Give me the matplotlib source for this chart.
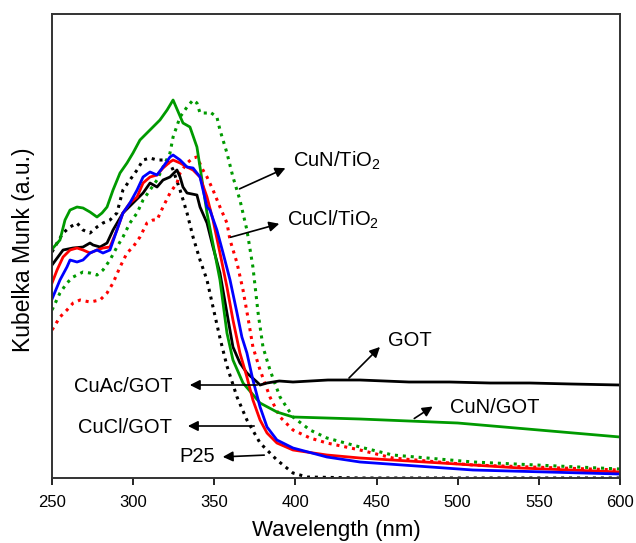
import matplotlib.pyplot as plt
from matplotlib import use

use('Agg')
plt.rcParams['font.family'] = ['Liberation Sans', 'DejaVu Sans']
plt.rcParams['mathtext.fontset'] = 'custom'
plt.rcParams['mathtext.rm'] = 'Liberation Sans'
plt.rcParams['mathtext.it'] = 'Liberation Sans:italic'

# ---- data (arbitrary Kubelka-Munk units) ----
wl_got = [250, 256.8, 262.9, 269.1, 273.4, 275.3, 279.6, 283.9, 287.6, 293.7, 299.9,
          306.1, 310.4, 314.7, 318.4, 322.7, 327, 328.9, 330.7, 333.2, 339.3, 341.2,
          345.5, 349.2, 353.5, 357.8, 361.5, 365.8, 370.1, 376.3, 378.2, 382.5, 390,
          398.5, 420, 439.8, 470, 495, 520, 544.5, 570, 600]
km_got = [213, 228, 230, 231, 235, 233, 231, 235, 248, 265, 275,
          285, 295, 291, 298, 301, 308, 301, 291, 285, 283, 271,
          255, 231, 205, 165, 131, 115, 105, 96, 93, 95, 97,
          96, 98, 98, 96, 96, 95, 95, 94, 93]

wl_cun_got = [250, 250.6, 254.9, 258, 261.1, 265.4, 269.1, 273.4, 277.7, 280.8, 283.9,
              287.6, 291.9, 296.2, 299.9, 304.2, 308.5, 312.2, 316.5, 320.9, 324.6,
              330.7, 335, 339.3, 341.2, 345.5, 353.5, 357.8, 361.5, 367.7, 378.2,
              388.6, 398.5, 439.8, 500, 550, 600]
km_cun_got = [228, 230, 238, 258, 268, 271, 270, 266, 261, 265, 271,
              288, 305, 315, 325, 338, 345, 351, 358, 368, 378,
              355, 351, 331, 311, 265, 198, 145, 118, 95, 75,
              66, 61, 59, 55, 48, 41]

wl_cucl_got = [250, 253.1, 256.8, 261.1, 265.4, 269.1, 273.4, 277.7, 281.4, 285.7, 290,
               293.7, 298, 302.4, 306.1, 310.4, 314.7, 318.4, 322.7, 324.6, 328.9,
               333.2, 336.9, 341.2, 345.5, 349.2, 353.5, 357.8, 361.5, 365.8, 370.1,
               373.8, 378.2, 382.5, 388.6, 398.5, 419.4, 439.8, 489.7, 538.4, 600]
km_cucl_got = [195, 208, 221, 228, 230, 228, 225, 228, 230, 231, 248,
               265, 275, 281, 295, 301, 303, 310, 316, 318, 315,
               311, 308, 301, 281, 258, 225, 191, 158, 125, 101,
               78, 58, 45, 35, 28, 23, 20, 15, 10, 6]

wl_blue = [250, 254.9, 259.2, 261.1, 265.4, 269.1, 273.4, 277.7, 281.4, 285.7, 290,
           293.7, 298, 302.4, 306.1, 310.4, 314.7, 318.4, 322.7, 324.6, 328.9,
           333.2, 336.9, 341.2, 345.5, 347.3, 351.6, 355.4, 359.7, 364, 367,
           370.1, 373.8, 378.2, 382.5, 388.6, 398.5, 419.4, 439.8, 509.4, 600]
km_blue = [179, 198, 211, 218, 216, 218, 225, 228, 225, 228, 248,
           265, 275, 288, 301, 306, 303, 311, 321, 323, 318,
           311, 310, 301, 271, 268, 248, 225, 198, 165, 141,
           125, 98, 71, 51, 38, 30, 21, 16, 8, 4]

wl_p25 = [250, 253.1, 256.8, 261.1, 265.4, 269.1, 273.4, 277.7, 281.4, 285.7, 290,
          293.7, 298, 302.4, 306.1, 310.4, 314.7, 318.4, 322.7, 324.6, 328.9,
          333.2, 336.9, 341.2, 345.5, 349.2, 353.5, 357.8, 364, 370.1, 378.2,
          388.6, 398.5, 407.1, 440, 600]
km_p25 = [226, 235, 245, 251, 255, 248, 245, 251, 255, 258, 265,
          288, 298, 308, 318, 320, 318, 318, 315, 308, 288,
          265, 241, 218, 198, 171, 140, 112, 81, 58, 35,
          18, 5, 1, 0, 0]

wl_cun_tio2 = [250, 254.9, 259.2, 263, 269.1, 273.4, 277.7, 281.4, 285.7, 290,
               293.7, 298, 302.4, 306.1, 310.4, 314.7, 318.4, 322.7, 324.6, 328.9,
               333.2, 336.9, 339.3, 341.2, 345.5, 347.3, 351.6, 353.5, 357.8, 361.5,
               365.8, 370.1, 373.8, 377, 380, 384.3, 390.5, 398.5, 409, 419.4,
               439.8, 459.9, 509.4, 600]
km_cun_tio2 = [168, 185, 195, 201, 206, 205, 203, 208, 218, 231,
               241, 255, 265, 278, 288, 298, 311, 325, 341, 361,
               371, 378, 375, 365, 365, 366, 361, 348, 325, 301,
               278, 248, 211, 165, 131, 108, 81, 61, 48, 40,
               31, 23, 16, 9]

wl_cucl_tio2 = [250, 254.9, 259.2, 263, 267.3, 273.4, 279.6, 283.9, 287.6, 291.9,
                296.2, 299.9, 304.2, 308.5, 312.2, 314.7, 318.4, 322.7, 327, 328.9,
                333.2, 336.9, 339.3, 343, 345.5, 349.2, 353.5, 357.8, 359.7, 364,
                367.7, 371, 373.8, 378.2, 384.3, 390.5, 398.5, 409, 419.4, 439.8,
                459.9, 509.4, 600]
km_cucl_tio2 = [148, 161, 168, 175, 178, 176, 178, 185, 195, 211,
                225, 231, 241, 255, 258, 258, 271, 285, 295, 305,
                315, 320, 321, 308, 301, 288, 271, 255, 238, 215,
                188, 158, 131, 108, 81, 61, 48, 40, 35, 28,
                20, 13, 8]

x_ticks = [250, 300, 350, 400, 450, 500, 550, 600]

GREEN = '#009a00'

fig = plt.figure(figsize=(6.36, 5.43), dpi=100)
ax = fig.add_axes([0.0818, 0.1197, 0.893, 0.8545])

# dotted TiO2 based samples first, solid GOT samples on top
ax.plot(wl_p25, km_p25, color='black', ls=(0, (1, 1.6)), lw=2.2)
ax.plot(wl_cun_tio2, km_cun_tio2, color=GREEN, ls=(0, (1, 1.6)), lw=2.2)
ax.plot(wl_cucl_tio2, km_cucl_tio2, color='red', ls=(0, (1, 1.6)), lw=2.2)
ax.plot(wl_got, km_got, color='black', lw=2)
ax.plot(wl_cun_got, km_cun_got, color=GREEN, lw=2)
ax.plot(wl_cucl_got, km_cucl_got, color='red', lw=2)
ax.plot(wl_blue, km_blue, color='blue', lw=2)

ax.set_xlim(250, 600)
ax.set_ylim(0, 464)
ax.set_xticks(x_ticks)
ax.set_yticks([])
ax.tick_params(axis='x', direction='out', length=5, width=1.2, labelsize=12, pad=7)
for s in ax.spines.values():
    s.set_color('#333333')
    s.set_linewidth(1.4)

ax.set_xlabel('Wavelength (nm)', fontsize=16, va='center')
ax.xaxis.set_label_coords(0.5, -0.114)
ax.set_ylabel('Kubelka Munk (a.u.)', fontsize=16.5, va='center')
ax.yaxis.set_label_coords(-0.051, 0.491)

# annotations: arrow from the curve towards its label
arrow = dict(arrowstyle='-|>', color='black', lw=1.2, mutation_scale=15)
fs = 14.5
ax.annotate('', xy=(395.4, 311), xytext=(364, 288), arrowprops=arrow)
ax.text(398.5, 317, 'CuN/TiO$_2$', fontsize=fs, va='center', ha='left')
ax.annotate('', xy=(391.7, 255), xytext=(358.4, 240), arrowprops=arrow)
ax.text(394.8, 258, 'CuCl/TiO$_2$', fontsize=fs, va='center', ha='left')
ax.annotate('', xy=(453.3, 133), xytext=(431.8, 98), arrowprops=arrow)
ax.text(457, 138, 'GOT', fontsize=fs, va='center', ha='left')
ax.annotate('', xy=(486, 73), xytext=(471.8, 58), arrowprops=arrow)
ax.text(495.2, 71, 'CuN/GOT', fontsize=fs, va='center', ha='left')
ax.annotate('', xy=(333.2, 93), xytext=(378.2, 93), arrowprops=arrow)
ax.text(324, 92, 'CuAc/GOT', fontsize=fs, va='center', ha='right')
ax.annotate('', xy=(332, 52), xytext=(376.3, 52), arrowprops=arrow)
ax.text(324, 51, 'CuCl/GOT', fontsize=fs, va='center', ha='right')
ax.annotate('', xy=(353.5, 21), xytext=(382.5, 23), arrowprops=arrow)
ax.text(350.4, 22, 'P25', fontsize=fs, va='center', ha='right')

fig.savefig('out.png', dpi=100)
